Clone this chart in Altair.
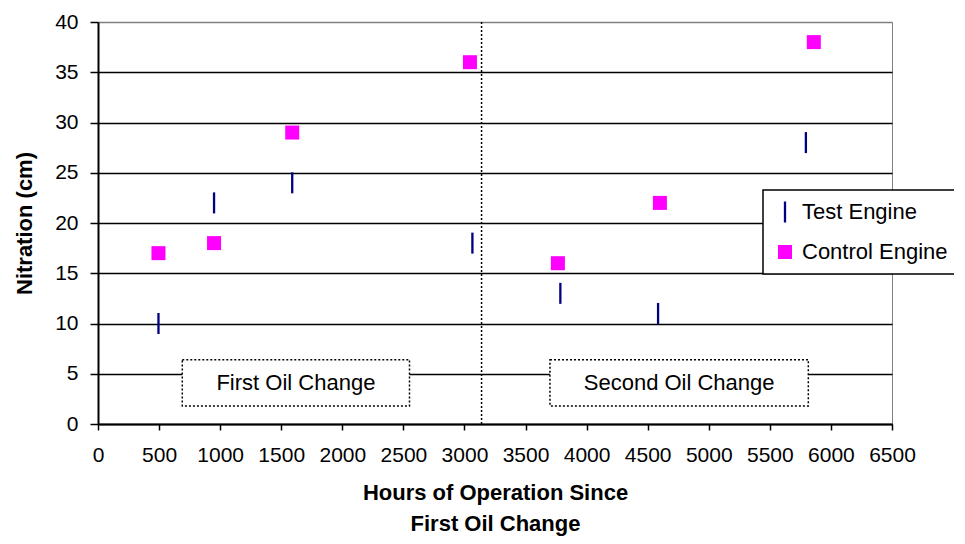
import altair as alt
import pandas as pd

# ---- data ----
series_names = ["Test Engine", "Control Engine"]
test_hours = [495, 950, 1590, 3065, 3785, 4585, 5795]
test_nitration = [10, 22, 24, 18, 13, 11, 28]
control_hours = [495, 950, 1590, 3045, 3765, 4600, 5860]
control_nitration = [17, 18, 29, 36, 16, 22, 38]

x_ticks = list(range(0, 6501, 500))
y_ticks = list(range(0, 41, 5))

oil_change_hours = [3140]
box_labels = ["First Oil Change", "Second Oil Change"]
box_x0 = [690, 3700]
box_x1 = [2550, 5815]
box_y0 = [1.8, 1.8]
box_y1 = [6.4, 6.4]

FONT = "Liberation Sans"

pts = pd.DataFrame({
    "hours": test_hours + control_hours,
    "nitration": test_nitration + control_nitration,
    "series": [series_names[0]] * len(test_hours) + [series_names[1]] * len(control_hours),
})
boxes = pd.DataFrame({
    "label": box_labels,
    "x0": box_x0, "x1": box_x1, "y0": box_y0, "y1": box_y1,
    "xc": [(a + b) / 2 for a, b in zip(box_x0, box_x1)],
    "yc": [(a + b) / 2 for a, b in zip(box_y0, box_y1)],
})
rule_df = pd.DataFrame({"hours": oil_change_hours})

xscale = alt.Scale(domain=[0, 6500], nice=False, zero=False)
yscale = alt.Scale(domain=[0, 40], nice=False)

x_axis = alt.Axis(
    values=x_ticks, format="d", grid=False, labelOverlap=False, labelFlush=False,
    title=["Hours of Operation Since", "First Oil Change"],
    titleFont=FONT, titleFontSize=22, titleFontWeight="bold", titleColor="black",
    titleX=397, titleY=75, titleAlign="center", titleBaseline="alphabetic",
    titleLineHeight=31,
    labelFont=FONT, labelFontSize=21, labelColor="black", labelPadding=14,
    tickSize=6, tickColor="black", tickWidth=1.5,
    domainColor="black", domainWidth=2,
)
y_axis = alt.Axis(
    values=y_ticks, grid=True, labelOverlap=False, labelFlush=False,
    gridColor={"condition": {"test": "datum.value === 40", "value": "#808080"}, "value": "black"},
    gridWidth=1.5,
    title="Nitration (cm)",
    titleFont=FONT, titleFontSize=22, titleFontWeight="bold", titleColor="black",
    titleAngle=270, titleX=-74, titleY=201, titleAlign="center", titleBaseline="middle",
    labelFont=FONT, labelFontSize=21, labelColor="black", labelPadding=12,
    tickSize=8, tickColor="black", tickWidth=1.5,
    domainColor="black", domainWidth=2,
)

base_axes = alt.Chart(pts).mark_point(opacity=0).encode(
    x=alt.X("hours:Q", scale=xscale, axis=x_axis),
    y=alt.Y("nitration:Q", scale=yscale, axis=y_axis),
)

rule = alt.Chart(rule_df).mark_rule(color="black", strokeWidth=1.5, strokeDash=[2, 2]).encode(
    x=alt.X("hours:Q", scale=xscale),
)

rects = alt.Chart(boxes).mark_rect(
    fill="white", stroke="black", strokeWidth=1.5, strokeDash=[2, 2]
).encode(
    x=alt.X("x0:Q", scale=xscale), x2="x1:Q",
    y=alt.Y("y0:Q", scale=yscale), y2="y1:Q",
)

texts = alt.Chart(boxes).mark_text(
    font=FONT, fontSize=22, color="black", align="center", baseline="middle"
).encode(
    x=alt.X("xc:Q", scale=xscale),
    y=alt.Y("yc:Q", scale=yscale),
    text="label:N",
)

colors = ["#000080", "#FF00FF"]
tick_path = "M-0.11,-1L0.11,-1L0.11,1L-0.11,1Z"

legend_props = dict(
    title=None, orient="none", legendX=665, legendY=168,
    labelFont=FONT, labelFontSize=22, labelColor="black",
    labelOffset=6, rowPadding=18, padding=11,
    symbolSize=196, symbolOpacity=1, symbolStrokeWidth=0,
    strokeColor="black", fillColor="white",
)

points = alt.Chart(pts).mark_point(filled=True, opacity=1, strokeWidth=0).encode(
    x=alt.X("hours:Q", scale=xscale),
    y=alt.Y("nitration:Q", scale=yscale),
    color=alt.Color(
        "series:N",
        scale=alt.Scale(domain=series_names, range=colors),
        legend=alt.Legend(**legend_props),
    ),
    shape=alt.Shape(
        "series:N",
        scale=alt.Scale(domain=series_names, range=[tick_path, "square"]),
        legend=alt.Legend(**legend_props),
    ),
    size=alt.Size("series:N", scale=alt.Scale(domain=series_names, range=[441, 196]), legend=None),
)

chart = alt.layer(base_axes, rule, rects, texts, points).properties(
    width=794, height=402,
    autosize=alt.AutoSizeParams(type="none"),
    padding={"left": 90, "top": 14, "right": 62, "bottom": 112},
    background="white",
).configure_view(
    stroke="#808080", strokeWidth=1,
).configure_legend(
    strokeWidth=1.5,
)

chart.save("out.html", embed_options={"renderer": "svg", "actions": False})
